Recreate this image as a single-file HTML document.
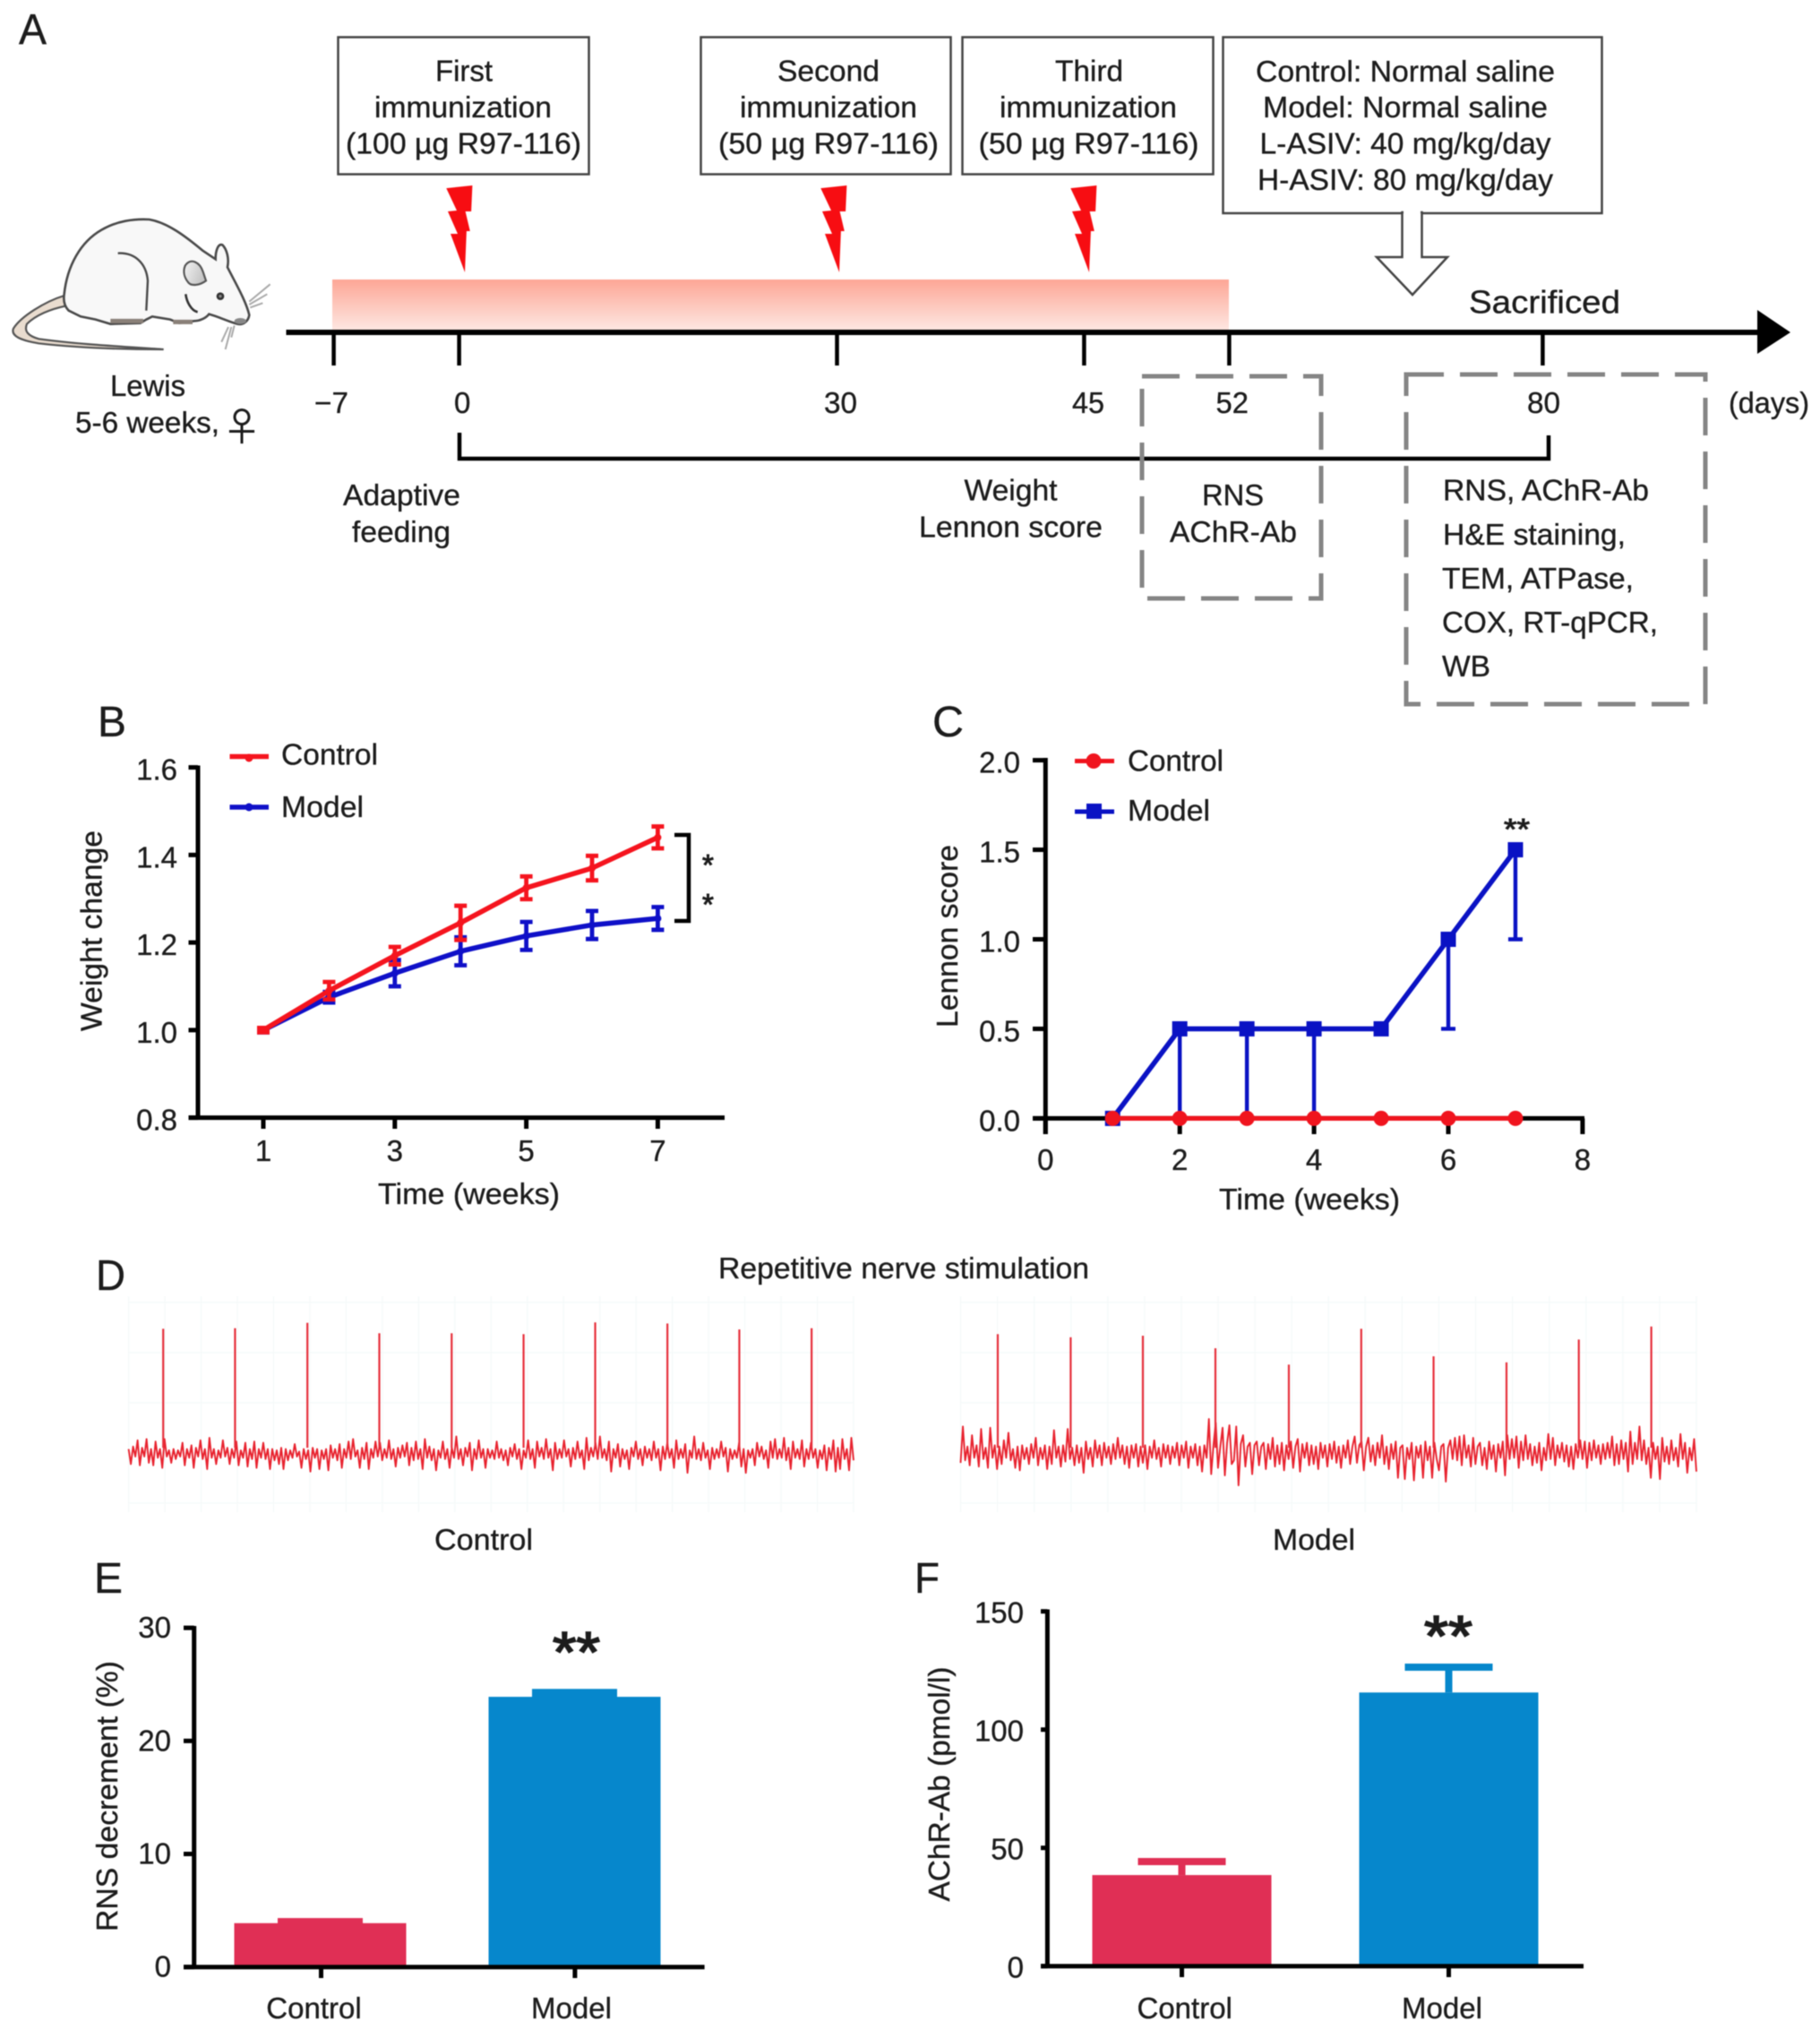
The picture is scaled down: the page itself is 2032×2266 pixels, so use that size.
<!DOCTYPE html>
<html lang="en">
<head>
<meta charset="utf-8">
<title>Experimental timeline and results figure</title>
<style>
html,body{margin:0;padding:0;background:#fff;}
svg{display:block;filter:blur(0.6px);}
text{font-family:"Liberation Sans",Arial,sans-serif;font-size:33px;fill:#1c1c1c;stroke:#1c1c1c;stroke-width:0.35px;}
.letter{font-size:48px;}
.box{fill:#fff;stroke:#444;stroke-width:2.5;}
.dash{fill:none;stroke:#858585;stroke-width:5;stroke-dasharray:42 18;}
</style>
</head>
<body>
<svg id="figure" xmlns="http://www.w3.org/2000/svg" width="2032" height="2266" viewBox="0 0 2032 2266">
<defs>
<linearGradient id="bandGrad" x1="0" y1="0" x2="0" y2="1"><stop offset="0" stop-color="#fda696"/><stop offset="1" stop-color="#feeae5"/></linearGradient>
<linearGradient id="earGrad" x1="0" y1="0" x2="1" y2="0.4"><stop offset="0" stop-color="#f4f4f4"/><stop offset="1" stop-color="#c4c4c4"/></linearGradient>
<polygon id="bolt" points="-20.7,-93.9 8.4,-97 7.1,-68 0.6,-68 5.8,-46 1.9,-46 0,0 -16,-43 -8,-43 -19,-68 -9,-69" fill="#f70d12"/>
</defs>
<rect width="2032" height="2266" fill="#fff"/>

<g>
<text class="letter" x="21" y="49" textLength="31" lengthAdjust="spacingAndGlyphs">A</text>

<g transform="translate(0,230) scale(0.3333)">
<path d="M215 300 C150 320 70 370 45 410 C35 435 70 450 130 460 C260 475 400 480 548 480 C400 470 250 462 130 445 C95 435 80 420 90 395 C120 365 170 345 218 335 Z" fill="#e9dccf" stroke="#555" stroke-width="2.2" vector-effect="non-scaling-stroke"/>
<path d="M215 295 C225 200 270 120 340 80 C390 50 450 42 500 45 C560 55 620 100 680 150 L722 178 C722 150 730 125 745 130 C760 145 768 175 762 205 C790 260 825 320 835 365 C832 385 815 400 795 395 C760 385 730 370 700 362 C690 375 670 385 650 385 L600 392 L570 380 L510 370 L490 380 L470 392 L370 395 L320 380 L270 370 L230 350 C215 335 212 315 215 295 Z" fill="#f8f8f8" stroke="#4a4a4a" stroke-width="2.6" vector-effect="non-scaling-stroke"/>
<path d="M395 158 C450 155 490 190 495 250 L490 350" fill="none" stroke="#4a4a4a" stroke-width="2.4" vector-effect="non-scaling-stroke"/>
<path d="M620 200 C640 170 670 190 680 220 L690 250 C670 265 640 270 630 255 C618 240 612 220 620 200 Z" fill="url(#earGrad)" stroke="#555" stroke-width="2.2" vector-effect="non-scaling-stroke"/>
<path d="M622 295 C625 320 640 350 662 355" fill="none" stroke="#333" stroke-width="2.6" vector-effect="non-scaling-stroke"/>
<circle cx="738" cy="302" r="13" fill="#333"/>
<circle cx="738" cy="302" r="5" fill="#888"/>
<ellipse cx="805" cy="385" rx="20" ry="10" fill="#888"/>
<path d="M370 385 h110 M580 388 h65" stroke="#8a8078" stroke-width="5" vector-effect="non-scaling-stroke"/>
<path d="M835 320 L905 262 M835 330 L895 295 M838 340 L880 325 M765 405 L742 455 M775 405 L755 480 M785 400 L775 440" fill="none" stroke="#aaa" stroke-width="2" vector-effect="non-scaling-stroke"/>
</g>
<text x="123" y="442" textLength="84" lengthAdjust="spacingAndGlyphs">Lewis</text>
<text x="84" y="483" textLength="161" lengthAdjust="spacingAndGlyphs">5-6 weeks,</text>
<text x="248" y="492" style="font-family:'Noto Sans CJK JP',sans-serif;font-size:44px;stroke-width:0;">♀</text>

<rect class="box" x="377.5" y="41.5" width="280" height="153"/>
<text x="486" y="90.5" textLength="64" lengthAdjust="spacingAndGlyphs">First</text>
<text x="418" y="131" textLength="198" lengthAdjust="spacingAndGlyphs">immunization</text>
<text x="386" y="171.5" textLength="263" lengthAdjust="spacingAndGlyphs">(100 µg R97-116)</text>

<rect class="box" x="782.5" y="41.5" width="279" height="153"/>
<text x="868" y="90.5" textLength="114" lengthAdjust="spacingAndGlyphs">Second</text>
<text x="826" y="131" textLength="198" lengthAdjust="spacingAndGlyphs">immunization</text>
<text x="802" y="171.5" textLength="246" lengthAdjust="spacingAndGlyphs">(50 µg R97-116)</text>

<rect class="box" x="1074.5" y="41.5" width="280" height="153"/>
<text x="1178" y="90.5" textLength="76" lengthAdjust="spacingAndGlyphs">Third</text>
<text x="1116" y="131" textLength="198" lengthAdjust="spacingAndGlyphs">immunization</text>
<text x="1092.5" y="171.5" textLength="246" lengthAdjust="spacingAndGlyphs">(50 µg R97-116)</text>

<rect class="box" x="1365.5" y="41.5" width="423" height="196.5"/>
<text x="1402" y="91" textLength="334" lengthAdjust="spacingAndGlyphs">Control: Normal saline</text>
<text x="1410" y="131" textLength="318" lengthAdjust="spacingAndGlyphs">Model: Normal saline</text>
<text x="1406.5" y="171.5" textLength="325" lengthAdjust="spacingAndGlyphs">L-ASIV: 40 mg/kg/day</text>
<text x="1404" y="212" textLength="330" lengthAdjust="spacingAndGlyphs">H-ASIV: 80 mg/kg/day</text>
<polygon points="1565.5,237 1587.5,237 1587.5,287 1616,287 1577,329 1537,287 1565.5,287" fill="#fff" stroke="#444" stroke-width="2.5"/>
<rect x="1567" y="234" width="19" height="6" fill="#fff"/>

<use href="#bolt" x="519" y="304"/>
<use href="#bolt" x="937" y="304"/>
<use href="#bolt" x="1216" y="304"/>

<rect x="371" y="312" width="1001" height="59" fill="url(#bandGrad)"/>
<line x1="319.5" y1="371" x2="1970" y2="371" stroke="#000" stroke-width="6"/>
<polygon points="1962,346 1999,371 1962,395" fill="#000"/>
<path d="M372.6 371V408M512.6 371V408M934.5 371V408M1210.4 371V408M1372.4 371V408M1722.4 371V408" stroke="#000" stroke-width="4.5" fill="none"/>
<text x="351" y="461" textLength="38" lengthAdjust="spacingAndGlyphs">−7</text>
<text x="507" y="461">0</text>
<text x="920" y="461" textLength="37" lengthAdjust="spacingAndGlyphs">30</text>
<text x="1197" y="461" textLength="36" lengthAdjust="spacingAndGlyphs">45</text>
<text x="1357.5" y="461" textLength="36.5" lengthAdjust="spacingAndGlyphs">52</text>
<text x="1705" y="461" textLength="37" lengthAdjust="spacingAndGlyphs">80</text>
<text x="1930" y="461" textLength="90" lengthAdjust="spacingAndGlyphs">(days)</text>
<text x="1640" y="349.5" style="font-size:36px" textLength="169" lengthAdjust="spacingAndGlyphs">Sacrificed</text>

<path d="M513 483V512H1729V486" fill="none" stroke="#000" stroke-width="4.5"/>
<text x="383" y="564" textLength="131" lengthAdjust="spacingAndGlyphs">Adaptive</text>
<text x="393" y="605" textLength="110" lengthAdjust="spacingAndGlyphs">feeding</text>
<text x="1076.5" y="558.5" textLength="104" lengthAdjust="spacingAndGlyphs">Weight</text>
<text x="1026" y="599.5" textLength="205" lengthAdjust="spacingAndGlyphs">Lennon score</text>

<rect class="dash" x="1275" y="420" width="200" height="248"/>
<text x="1342" y="564" textLength="69" lengthAdjust="spacingAndGlyphs">RNS</text>
<text x="1306" y="605" textLength="142" lengthAdjust="spacingAndGlyphs">AChR-Ab</text>
<rect class="dash" x="1570" y="418" width="334" height="368"/>
<text x="1611" y="558.5" textLength="230" lengthAdjust="spacingAndGlyphs">RNS, AChR-Ab</text>
<text x="1611" y="608" textLength="204" lengthAdjust="spacingAndGlyphs">H&amp;E staining,</text>
<text x="1610" y="657" textLength="214" lengthAdjust="spacingAndGlyphs">TEM, ATPase,</text>
<text x="1610" y="706" textLength="241" lengthAdjust="spacingAndGlyphs">COX, RT-qPCR,</text>
<text x="1610" y="755" textLength="54" lengthAdjust="spacingAndGlyphs">WB</text>
</g>

<text class="letter" x="109" y="822" textLength="32" lengthAdjust="spacingAndGlyphs">B</text>
<text class="letter" x="1041" y="822" textLength="35" lengthAdjust="spacingAndGlyphs">C</text>
<text class="letter" x="107" y="1440" textLength="33" lengthAdjust="spacingAndGlyphs">D</text>
<text class="letter" x="105" y="1778" textLength="32" lengthAdjust="spacingAndGlyphs">E</text>
<text class="letter" x="1021" y="1778" textLength="28" lengthAdjust="spacingAndGlyphs">F</text>

<g>
<line x1="256.5" x2="300" y1="844.5" y2="844.5" stroke="#f5141e" stroke-width="5.5"/>
<circle cx="278" cy="846" r="4.5" fill="#f5141e"/>
<text x="314" y="853.5" textLength="108" lengthAdjust="spacingAndGlyphs">Control</text>
<line x1="256.5" x2="300" y1="901" y2="901" stroke="#0f10c8" stroke-width="5.5"/>
<circle cx="278" cy="901" r="4.5" fill="#0f10c8"/>
<text x="314" y="912" textLength="92" lengthAdjust="spacingAndGlyphs">Model</text>
</g>
<text transform="translate(113.5,1151) rotate(-90)" x="0" y="0" textLength="224" lengthAdjust="spacingAndGlyphs">Weight change</text>
<text x="422" y="1344" textLength="203" lengthAdjust="spacingAndGlyphs">Time (weeks)</text>
<path d="M753 932H769V1028H753" fill="none" stroke="#000" stroke-width="4.5"/>
<text x="784" y="977" style="stroke-width:1px">*</text>
<text x="784" y="1021" style="stroke-width:1px">*</text>

<g>
<line x1="1200" x2="1244" y1="849.5" y2="849.5" stroke="#f0141e" stroke-width="5"/>
<circle cx="1221" cy="849.5" r="8.5" fill="#f0141e"/>
<text x="1259" y="860.5" textLength="107" lengthAdjust="spacingAndGlyphs">Control</text>
<line x1="1200" x2="1244" y1="906" y2="906" stroke="#0a12c4" stroke-width="5"/>
<rect x="1213" y="897" width="17" height="17" fill="#0a12c4"/>
<text x="1259" y="916" textLength="92" lengthAdjust="spacingAndGlyphs">Model</text>
</g>
<text transform="translate(1069,1147) rotate(-90)" x="0" y="0" textLength="204" lengthAdjust="spacingAndGlyphs">Lennon score</text>
<text x="1361" y="1350" textLength="202" lengthAdjust="spacingAndGlyphs">Time (weeks)</text>
<text x="1679" y="937" style="stroke-width:1px" textLength="29" lengthAdjust="spacingAndGlyphs">**</text>

<text x="802" y="1427" textLength="414" lengthAdjust="spacingAndGlyphs">Repetitive nerve stimulation</text>
<text x="485" y="1730" textLength="110" lengthAdjust="spacingAndGlyphs">Control</text>
<text x="1421" y="1730" textLength="92" lengthAdjust="spacingAndGlyphs">Model</text>

<text transform="translate(131,2156) rotate(-90)" x="0" y="0" textLength="302" lengthAdjust="spacingAndGlyphs">RNS decrement (%)</text>
<text x="617" y="1866" style="font-size:64px;stroke-width:1.8px" textLength="53" lengthAdjust="spacingAndGlyphs">**</text>
<text transform="translate(1060,2122.5) rotate(-90)" x="0" y="0" textLength="262" lengthAdjust="spacingAndGlyphs">AChR-Ab (pmol/l)</text>
<text x="1590" y="1848" style="font-size:64px;stroke-width:1.8px" textLength="54" lengthAdjust="spacingAndGlyphs">**</text>
</svg>

<script>
/* Panel B data */
const weightWeeks = [1, 2, 3, 4, 5, 6, 7];
const weightControl = [1.0, 1.09, 1.17, 1.245, 1.325, 1.37, 1.44];
const weightControlErr = [0.005, 0.02, 0.02, 0.039, 0.026, 0.028, 0.025];
const weightModel = [1.0, 1.075, 1.13, 1.18, 1.215, 1.24, 1.255];
const weightModelErr = [0.005, 0.012, 0.03, 0.032, 0.032, 0.032, 0.026];
const weightYTicks = ['0.8', '1.0', '1.2', '1.4', '1.6'];
const weightXTicks = ['1', '3', '5', '7'];

/* Panel C data */
const lennonWeeks = [1, 2, 3, 4, 5, 6, 7];
const lennonControl = [0, 0, 0, 0, 0, 0, 0];
const lennonModel = [0, 0.5, 0.5, 0.5, 0.5, 1.0, 1.5];
const lennonModelLowerErr = [0, 0.5, 0.5, 0.5, 0, 0.5, 0.5];
const lennonYTicks = ['0.0', '0.5', '1.0', '1.5', '2.0'];
const lennonXTicks = ['0', '2', '4', '6', '8'];

/* Panel D data: noise samples (uV, up positive), stimulus times (s), spike amplitudes (uV) */
const traceControlNoise = [
3,-9,5,-3,10,-10,4,-3,11,-8,3,-10,
9,-4,3,-12,11,-3,2,-8,3,-5,2,-3,
8,-10,3,-4,6,-12,4,-3,10,-5,3,-13,
12,-4,3,-9,2,-4,10,-3,4,-9,3,-4,
9,-10,2,-4,8,-11,3,-5,9,-12,3,-4,
8,-5,3,-13,3,-6,2,-9,4,-13,3,-6,
2,-4,7,-3,1,-12,3,-5,2,-15,4,-4,
3,-13,2,-5,3,-14,6,-4,3,-6,7,-12,
3,-4,9,-5,11,-3,2,-12,4,-5,8,-13,
3,-4,9,-3,8,-6,3,-4,10,-5,3,-11,
4,-4,6,-3,8,-10,4,-6,9,-5,3,-13,
11,-4,5,-6,3,-14,2,-4,9,-5,3,-12,
4,-4,13,-5,3,-10,4,-3,8,-14,3,-5,
10,-4,3,-12,3,-4,2,-5,9,-4,3,-6,
2,-10,4,-3,7,-5,3,-13,2,-4,10,-5,
3,-12,9,-3,4,-5,11,-4,3,-14,8,-5,
3,-4,10,-3,3,-11,4,-5,9,-4,2,-13,
12,-6,4,-3,8,-5,13,-4,3,-6,9,-15,
3,-4,7,-11,3,-5,2,-13,4,-3,9,-5,
3,-10,5,-4,3,-6,9,-4,3,-14,5,-5,
8,-4,3,-12,10,-5,3,-4,7,-16,2,-4,
13,-5,3,-6,8,-4,2,-13,4,-5,3,-4,
9,-3,4,-15,3,-5,2,-4,8,-11,3,-16,
2,-4,3,-10,8,-3,5,-5,2,-12,9,-4,
11,-5,3,-4,12,-6,4,-13,9,-4,3,-5,
10,-11,3,-5,8,-4,3,-12,2,-5,6,-14,
4,-5,10,-15,4,-13,11,-5,3,-14,12,-6
];
const traceControlSpikeTimes = [0.477, 1.468, 2.466, 3.458, 4.456, 5.448, 6.436, 7.432, 8.424, 9.421];
const traceControlSpikeAmps = [98.9, 99.3, 103.6, 95.3, 95.3, 94.6, 104, 103.1, 98.4, 99.3];

const traceModelNoise = [
-8,21,-6,5,-10,14,-4,6,-11,19,-5,4,
-12,20,-4,6,-13,5,-9,10,-4,16,-6,3,
-12,5,-14,6,-5,4,-9,7,-4,12,-10,4,
-5,6,-13,5,-9,18,-4,5,-11,6,-7,19,
-5,4,-10,6,-8,4,-16,9,-5,4,-11,10,
-4,6,-10,8,-4,5,-9,7,-5,12,-4,6,
-9,5,-12,6,-4,7,-11,5,-8,6,-13,5,
-4,10,-5,4,-11,7,-4,6,-9,5,-4,8,
-10,6,-4,9,-12,5,-4,7,-10,5,-15,6,
-4,27,-17,6,24,-12,5,20,-18,8,22,-9,
-6,21,-26,7,14,-11,5,8,-17,6,9,-10,
5,8,-13,7,-5,12,-11,6,-9,8,-14,6,
-5,9,-12,5,11,-15,7,-4,8,-10,6,-9,
5,-13,8,-4,6,-11,7,-5,9,-8,5,-12,
6,-4,10,-9,5,13,-8,6,9,-14,5,12,
-7,6,-10,8,-4,14,-9,5,-13,7,-5,9,
-20,4,6,-21,4,-5,8,-22,5,-4,6,-20,
9,-6,5,-20,8,-5,-14,5,7,-23,4,10,
-5,12,-6,13,-10,14,-4,6,-11,12,-9,5,
8,-10,4,-13,9,-5,6,-15,7,-4,9,-18,
14,-5,11,-4,13,-12,9,-6,14,-5,7,-10,
5,-8,8,-14,4,-6,15,-5,12,-10,6,-4,
8,-7,6,-11,5,-13,7,-4,10,-5,9,-12,
8,-6,10,-4,6,-9,7,-5,8,-4,13,-10,
7,-9,10,-5,8,-15,17,-9,8,-5,21,-6,
10,-9,4,-20,8,-5,5,-21,12,-7,5,-9,
10,-6,4,-11,15,-5,8,-16,4,-6,11,-15
];
const traceModelSpikeTimes = [0.505, 1.496, 2.477, 3.463, 4.461, 5.445, 6.428, 7.419, 8.402, 9.387];
const traceModelSpikeAmps = [94.6, 92.1, 93.4, 83.4, 70.3, 98.9, 76.9, 72.1, 90.3, 100.7];

/* Panel E data */
const rnsCategories = ['Control', 'Model'];
const rnsValues = [3.88, 23.9];
const rnsErrors = [0.45, 0.7];
const rnsYTicks = [0, 10, 20, 30];

/* Panel F data */
const achrCategories = ['Control', 'Model'];
const achrValues = [38.5, 115.7];
const achrErrors = [5.7, 10.7];
const achrYTicks = [0, 50, 100, 150];

const NS = 'http://www.w3.org/2000/svg';
const svg = document.getElementById('figure');
function mk(tag, attrs, parent) {
  const el = document.createElementNS(NS, tag);
  for (const k in attrs) el.setAttribute(k, attrs[k]);
  parent.appendChild(el);
  return el;
}
function group(parent) { return mk('g', {}, parent); }
function addLine(parent, x1, y1, x2, y2, color, width) {
  return mk('line', {x1: x1, y1: y1, x2: x2, y2: y2, stroke: color, 'stroke-width': width}, parent);
}
function addText(parent, str, x, y, anchor) {
  const el = mk('text', {x: x, y: y, 'text-anchor': anchor}, parent);
  el.textContent = str;
  return el;
}

/* axis functions */
const xB = w => 294 + (w - 1) * 73.4;
const yB = v => 1247.6 - (v - 0.8) * 488.75;
const xC = w => 1167.3 + w * 74.95;
const yC = v => 1248.4 - v * 199.9;
const yE = v => 2195.7 - v * 12.62;
const xE = i => 357.5 + i * 284;
const labelE = i => 350.5 + i * 287.5;
const yF = v => 2194.7 - v * 2.64;
const xF = i => 1319.5 + i * 298;
const labelF = i => 1322.7 + i * 287.3;

const AX = 5;

/* ---------- Panel B ---------- */
const chartB = group(svg);


const axisBY = addLine(chartB, 221, 854.5, 221, 1250, '#000', AX);


const axisBX = addLine(chartB, 210.5, 1247.6, 809, 1247.6, '#000', AX);


weightYTicks.forEach(t => {
  const v = parseFloat(t);
  const tick = addLine(chartB, 210.5, yB(v), 221, yB(v), '#000', AX);
  
  
  const lab = addText(chartB, t, 198, yB(v) + 14, 'end');
  
  
});
weightXTicks.forEach(t => {
  const w = parseFloat(t);
  const tick = addLine(chartB, xB(w), 1247.6, xB(w), 1260, '#000', AX);
  
  
  const lab = addText(chartB, t, xB(w), 1296, 'middle');
  
  
});
function drawWeightSeries(values, errs, color, name) {
  const pts = weightWeeks.map((w, i) => xB(w) + ',' + yB(values[i])).join(' ');
  const line = mk('polyline', {points: pts, fill: 'none', stroke: color, 'stroke-width': 5.6, 'stroke-linejoin': 'round'}, chartB);
  
  
  weightWeeks.forEach((w, i) => {
    const x = xB(w), hi = yB(values[i] + errs[i]), lo = yB(values[i] - errs[i]);
    const bar = mk('path', {d: 'M' + (x - 7) + ' ' + hi + 'H' + (x + 7) + 'M' + x + ' ' + hi + 'V' + lo + 'M' + (x - 7) + ' ' + lo + 'H' + (x + 7), fill: 'none', stroke: color, 'stroke-width': 4.8}, chartB);
    
    
    const pt = mk('circle', {cx: x, cy: yB(values[i]), r: 4, fill: color}, chartB);
    
    
  });
}
drawWeightSeries(weightModel, weightModelErr, '#0f10c8', 'weight-model');
drawWeightSeries(weightControl, weightControlErr, '#f5141e', 'weight-control');

/* ---------- Panel C ---------- */
const chartC = group(svg);


const axisCY = addLine(chartC, 1167.3, 846, 1167.3, 1266, '#000', AX);


const axisCX = addLine(chartC, 1153, 1248.4, 1769, 1248.4, '#000', AX);


lennonYTicks.forEach(t => {
  const v = parseFloat(t);
  const tick = addLine(chartC, 1153, yC(v), 1167.3, yC(v), '#000', AX);
  
  
  const lab = addText(chartC, t, 1139, yC(v) + 14, 'end');
  
  
});
lennonXTicks.forEach(t => {
  const w = parseFloat(t);
  const tick = addLine(chartC, xC(w), 1248.4, xC(w), 1266, '#000', AX);
  
  
  const lab = addText(chartC, t, xC(w), 1306, 'middle');
  
  
});
const lennonModelLine = mk('polyline', {points: lennonWeeks.map((w, i) => xC(w) + ',' + yC(lennonModel[i])).join(' '), fill: 'none', stroke: '#0a12c4', 'stroke-width': 5.6}, chartC);


lennonWeeks.forEach((w, i) => {
  const x = xC(w), y = yC(lennonModel[i]), lo = yC(lennonModel[i] - lennonModelLowerErr[i]);
  if (lennonModelLowerErr[i] > 0) {
    const err = mk('path', {d: 'M' + x + ' ' + y + 'V' + lo + 'M' + (x - 8) + ' ' + lo + 'H' + (x + 8), fill: 'none', stroke: '#0a12c4', 'stroke-width': 4.4}, chartC);
    
    
  }
  const sq = mk('rect', {x: x - 8.5, y: y - 8.5, width: 17, height: 17, fill: '#0a12c4'}, chartC);
  
  
});
const lennonControlLine = mk('polyline', {points: lennonWeeks.map((w, i) => xC(w) + ',' + yC(lennonControl[i])).join(' '), fill: 'none', stroke: '#f0141e', 'stroke-width': 5.2}, chartC);


lennonWeeks.forEach((w, i) => {
  const c = mk('circle', {cx: xC(w), cy: yC(lennonControl[i]), r: 8.5, fill: '#f0141e'}, chartC);
  
  
});

/* ---------- Panel D ---------- */
function drawTrace(noise, times, amps, left, width, name) {
  const g = group(svg);
  
  
  const xT = t => left + t * width / 10;
  const yT = v => 1621.7 - v * 1.4;
  const grid = mk('path', {d: '', fill: 'none', stroke: '#f6fafa', 'stroke-width': 1.5}, g);
  
  
  let d = '';
  for (let t = 0; t <= 20; t++) d += 'M' + xT(t / 2) + ' 1447V1688';
  for (let v = -40; v <= 120; v += 40) d += 'M' + left + ' ' + yT(v) + 'H' + (left + width);
  grid.setAttribute('d', d);
  const pts = noise.map((v, i) => xT(i * 10 / (noise.length - 1)) + ',' + yT(v)).join(' ');
  const wave = mk('polyline', {points: pts, fill: 'none', stroke: '#e8222e', 'stroke-width': 1.9, 'stroke-linejoin': 'round'}, g);
  
  
  times.forEach((t, i) => {
    const s = addLine(g, xT(t), yT(4), xT(t), yT(amps[i]), '#e62f3b', 2.2);
    
    
  });
}
drawTrace(traceControlNoise, traceControlSpikeTimes, traceControlSpikeAmps, 143.6, 809.4, 'control-trace');
drawTrace(traceModelNoise, traceModelSpikeTimes, traceModelSpikeAmps, 1072.5, 821.5, 'model-trace');

/* ---------- Panels E and F ---------- */
const barColors = ['#e02f55', '#0687cc'];
const chartE = group(svg);


rnsCategories.forEach((c, i) => {
  const cx = xE(i);
  const bar = mk('rect', {x: cx - 96, y: yE(rnsValues[i]), width: 192, height: yE(0) - yE(rnsValues[i]), fill: barColors[i]}, chartE);
  
  
  const top = yE(rnsValues[i] + rnsErrors[i]);
  const err = mk('rect', {x: cx - 47.5, y: top, width: 95, height: yE(rnsValues[i]) - top + 1, fill: barColors[i]}, chartE);
  
  
  const tick = addLine(chartE, xE(0) + 1 + i * 283.4, yE(0), xE(0) + 1 + i * 283.4, 2208, '#000', AX);
  
  
  const lab = addText(chartE, c, labelE(i), 2253, 'middle');
  
  
});
const axisEY = addLine(chartE, 216.7, 1815, 216.7, 2198, '#000', AX);


const axisEX = addLine(chartE, 205, yE(0), 786.6, yE(0), '#000', AX);


rnsYTicks.forEach(v => {
  const tick = addLine(chartE, 205, yE(v), 216.7, yE(v), '#000', AX);
  
  
  const lab = addText(chartE, String(v), 191, yE(v) + 11, 'end');
  
  
});

const chartF = group(svg);


achrCategories.forEach((c, i) => {
  const cx = xF(i);
  const bar = mk('rect', {x: cx - 100, y: yF(achrValues[i]), width: 200, height: yF(0) - yF(achrValues[i]), fill: barColors[i]}, chartF);
  
  
  const top = yF(achrValues[i] + achrErrors[i]);
  const err = mk('path', {d: 'M' + cx + ' ' + top + 'V' + yF(achrValues[i]) + 'M' + (cx - 49) + ' ' + top + 'H' + (cx + 49), fill: 'none', stroke: barColors[i], 'stroke-width': 8}, chartF);
  
  
  const tick = addLine(chartF, xF(i), yF(0), xF(i), 2207, '#000', AX);
  
  
  const lab = addText(chartF, c, labelF(i), 2253, 'middle');
  
  
});
const axisFY = addLine(chartF, 1169.4, 1796.5, 1169.4, 2197, '#000', AX);


const axisFX = addLine(chartF, 1162, yF(0), 1768, yF(0), '#000', AX);


achrYTicks.forEach(v => {
  const tick = addLine(chartF, 1162, yF(v), 1169.4, yF(v), '#000', AX);
  
  
  const lab = addText(chartF, String(v), 1143, yF(v) + 13, 'end');
  
  
});
</script>
</body>
</html>
